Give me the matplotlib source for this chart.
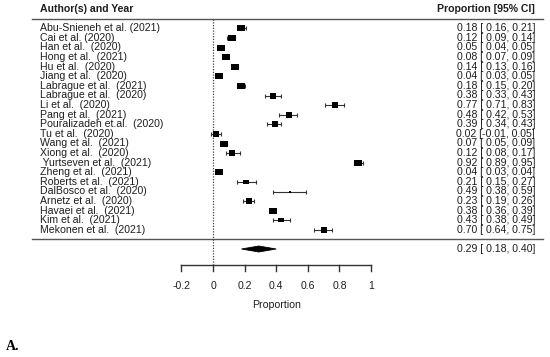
import numpy as np
import matplotlib
matplotlib.use("Agg")
import matplotlib.pyplot as plt
from matplotlib.patches import Polygon

plt.rcParams['font.family'] = ['Liberation Sans', 'DejaVu Sans']

# ---------------- data ----------------
authors = [
    "Abu-Snieneh et al. (2021)", "Cai et al. (2020)", "Han et al.  (2020)",
    "Hong et al.  (2021)", "Hu et al.  (2020)", "Jiang et al.  (2020)",
    "Labrague et al.  (2021)", "Labrague et al.  (2020)", "Li et al.  (2020)",
    "Pang et al.  (2021)", "Pouralizadeh et.al.  (2020)", "Tu et al.  (2020)",
    "Wang et al.  (2021)", "Xiong et al.  (2020)", " Yurtseven et al.  (2021)",
    "Zheng et al.  (2021)", "Roberts et al.  (2021)", "DalBosco et al.  (2020)",
    "Arnetz et al.  (2020)", "Havaei et al.  (2021)", "Kim et al.  (2021)",
    "Mekonen et al.  (2021)",
]
est = [0.18, 0.12, 0.05, 0.08, 0.14, 0.04, 0.18, 0.38, 0.77, 0.48, 0.39, 0.02,
       0.07, 0.12, 0.92, 0.04, 0.21, 0.49, 0.23, 0.38, 0.43, 0.70]
lo = [0.16, 0.09, 0.04, 0.07, 0.13, 0.03, 0.15, 0.33, 0.71, 0.42, 0.34, -0.01,
      0.05, 0.08, 0.89, 0.03, 0.15, 0.38, 0.19, 0.36, 0.38, 0.64]
hi = [0.21, 0.14, 0.05, 0.09, 0.16, 0.05, 0.20, 0.43, 0.83, 0.53, 0.43, 0.05,
      0.09, 0.17, 0.95, 0.04, 0.27, 0.59, 0.26, 0.39, 0.49, 0.75]
weights = [4.9, 4.9, 4.9, 4.9, 4.9, 4.9, 4.9, 3.6, 3.6, 3.6, 3.6, 3.6,
           4.9, 3.6, 4.9, 4.9, 3.0, 0.4, 3.6, 4.9, 3.0, 3.6]
summary_est, summary_lo, summary_hi = 0.29, 0.18, 0.40
xticks = [-0.2, 0, 0.2, 0.4, 0.6, 0.8, 1]
xlabel = "Proportion"
header_left = "Author(s) and Year"
header_right = "Proportion [95% CI]"
panel_label = "A."

# ---------------- layout ----------------
W, H = 550, 357
PX_PER_UNIT = 158.0
X0_PX = 213.0


def px2x(px):
    return (px - X0_PX) / PX_PER_UNIT


fig = plt.figure(figsize=(W / 100, H / 100), dpi=100)
ax = fig.add_axes([0, 0, 1, 1])
ax.set_xlim(px2x(0), px2x(W))
ax.set_ylim(H, 0)
ax.axis('off')

txt_col = '#1e1e1e'
fs = 7.6
n = len(authors)
rows = 28.3 + 9.6 * np.arange(n)

# header
ax.text(px2x(40), 9.5, header_left, fontsize=fs, fontweight='bold',
        color=txt_col, va='center', ha='left')
ax.text(px2x(535), 9.5, header_right, fontsize=fs, fontweight='bold',
        color=txt_col, va='center', ha='right')
ax.plot([px2x(32), px2x(543)], [19, 19], color='#555555', lw=1.0)
ax.plot([px2x(32), px2x(543)], [239, 239], color='#555555', lw=1.0)

# reference dotted line at 0
ax.plot([0, 0], [19, 265], color='#444444', lw=0.9, ls=(0, (1, 1.2)))

# study rows
rect = [(-1.3, -1), (1.3, -1), (1.3, 1), (-1.3, 1), (-1.3, -1)]
base_ms = 5.8
for i in range(n):
    y = rows[i]
    ax.errorbar(est[i], y, xerr=[[est[i] - lo[i]], [hi[i] - est[i]]],
                fmt='none', ecolor='#333333', elinewidth=0.8,
                capsize=1.4, capthick=0.8, zorder=2)
    ms = base_ms * np.sqrt(weights[i] / 4.9)
    ax.plot(est[i], y, marker=rect, ms=ms, color='black', mec='black',
            mew=0, zorder=3)
    ax.text(px2x(40), y, authors[i], fontsize=fs, color=txt_col,
            va='center', ha='left')
    ax.text(px2x(535), y, f"{est[i]:.2f} [{lo[i]:5.2f}, {hi[i]:.2f}]",
            fontsize=fs, color=txt_col, va='center', ha='right')

# summary diamond
ys = 249
dia = Polygon([(summary_lo, ys), (summary_est, ys - 3.0),
               (summary_hi, ys), (summary_est, ys + 3.0)],
              closed=True, facecolor='black', edgecolor='black', lw=0.6)
ax.add_patch(dia)
ax.text(px2x(535), ys,
        f"{summary_est:.2f} [{summary_lo:5.2f}, {summary_hi:.2f}]",
        fontsize=fs, color=txt_col, va='center', ha='right')

# x axis
ax.plot([xticks[0], xticks[-1]], [265, 265], color='#333333', lw=1.0)
for t in xticks:
    ax.plot([t, t], [265, 271], color='#333333', lw=1.0)
    ax.text(t, 286, f"{t:g}", fontsize=fs, color=txt_col,
            ha='center', va='center')
ax.text((xticks[0] + xticks[-1]) / 2, 305, xlabel, fontsize=fs,
        color=txt_col, ha='center', va='center')

ax.text(px2x(6), 347, panel_label, fontsize=10, fontweight='bold',
        family=['Liberation Serif', 'DejaVu Serif'], color='black',
        ha='left', va='center')

fig.savefig('out.png', dpi=100)
